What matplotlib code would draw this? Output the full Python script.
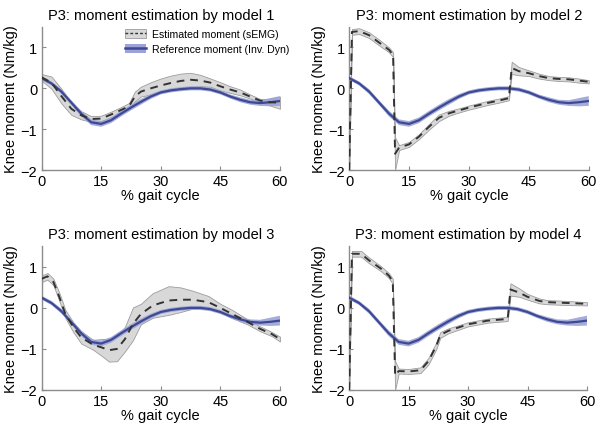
import numpy as np
import matplotlib.pyplot as plt
from matplotlib.patches import Patch
from matplotlib.lines import Line2D
from matplotlib import font_manager

plt.rcParams['font.family'] = ['Liberation Sans', 'DejaVu Sans']

# reference moment (inverse dynamics), same for every panel
ref_x = [0, 2.5, 5, 7.5, 10, 12.5, 15, 17.5, 20, 22.5, 25, 27.5, 30, 32.5,
         35, 37.5, 40, 42.5, 45, 47.5, 50, 52.5, 55, 57.5, 60]
ref_mean = [0.25, 0.12, -0.08, -0.35, -0.62, -0.83, -0.87, -0.78, -0.62, -0.47,
            -0.33, -0.2, -0.1, -0.05, -0.02, 0.0, 0.0, -0.03, -0.1, -0.2,
            -0.28, -0.34, -0.36, -0.34, -0.31]
ref_sd = [0.05, 0.05, 0.06, 0.06, 0.07, 0.07, 0.07, 0.07, 0.07, 0.07,
          0.07, 0.06, 0.05, 0.05, 0.05, 0.05, 0.05, 0.05, 0.05, 0.05,
          0.06, 0.06, 0.07, 0.1, 0.12]

# model 1
m1_x = [0, 2.5, 5, 7.5, 10, 12.5, 15, 17.5, 20, 22, 23.5, 25, 27.5, 30,
        32.5, 35, 37.5, 40, 42.5, 45, 47.5, 50, 52.5, 55, 57.5, 60]
m1_mean = [0.27, 0.14, -0.19, -0.5, -0.66, -0.75, -0.74, -0.64, -0.53, -0.44,
           -0.2, -0.08, 0.0, 0.07, 0.13, 0.18, 0.21, 0.19, 0.14, 0.05,
           -0.03, -0.1, -0.2, -0.3, -0.34, -0.35]
m1_sd = [0.08, 0.15, 0.18, 0.15, 0.1, 0.07, 0.07, 0.07, 0.07, 0.08,
         0.12, 0.12, 0.15, 0.17, 0.18, 0.18, 0.17, 0.14, 0.1, 0.1,
         0.08, 0.07, 0.05, 0.04, 0.08, 0.15]

# model 2
m2_x = [0, 0.7, 2.5, 5, 7.5, 10, 11, 11.5, 12.5, 15, 17.5, 20, 22.5, 25,
        27.5, 30, 32.5, 35, 37.5, 40, 40.7, 42.5, 45, 47.5, 50, 52.5, 55,
        57.5, 60]
m2_mean = [-2.0, 1.38, 1.4, 1.3, 1.12, 0.94, 0.82, -1.6, -1.45, -1.37, -1.18,
           -0.94, -0.72, -0.61, -0.54, -0.47, -0.41, -0.35, -0.3, -0.24,
           0.5, 0.42, 0.37, 0.3, 0.25, 0.23, 0.22, 0.19, 0.16]
m2_sd = [0.05, 0.07, 0.07, 0.07, 0.07, 0.06, 0.06, 0.4, 0.06, 0.06, 0.06,
         0.07, 0.08, 0.06, 0.05, 0.05, 0.05, 0.05, 0.05, 0.05,
         0.15, 0.1, 0.07, 0.06, 0.05, 0.05, 0.05, 0.05, 0.04]

# model 3
m3_x = [0, 1.5, 3, 4.5, 6, 8, 10, 13, 15, 17, 19, 21, 23, 25, 28, 32, 35,
        38, 42, 45, 48, 52, 55, 58, 60]
m3_mean = [0.71, 0.77, 0.63, 0.26, -0.15, -0.47, -0.72, -0.9, -0.96, -1.03,
           -1.0, -0.76, -0.39, -0.15, 0.06, 0.18, 0.2, 0.2, 0.14, 0.0,
           -0.15, -0.35, -0.51, -0.64, -0.76]
m3_sd = [0.08, 0.08, 0.08, 0.1, 0.1, 0.12, 0.15, 0.12, 0.2, 0.28, 0.3,
         0.3, 0.4, 0.25, 0.3, 0.35, 0.3, 0.22, 0.15, 0.1, 0.1, 0.06,
         0.06, 0.05, 0.06]

# model 4
m4_x = [0, 0.7, 3, 5, 8, 10, 11, 11.6, 12.5, 15, 18, 20, 22, 23, 25, 30,
        35, 40, 40.7, 43, 45, 48, 50, 55, 60]
m4_mean = [-2.0, 1.32, 1.32, 1.16, 0.96, 0.79, 0.65, -1.65, -1.54, -1.55,
           -1.52, -1.3, -0.92, -0.66, -0.56, -0.4, -0.31, -0.27, 0.45, 0.37,
           0.27, 0.17, 0.14, 0.12, 0.1]
m4_sd = [0.05, 0.07, 0.07, 0.07, 0.06, 0.06, 0.06, 0.35, 0.06, 0.06, 0.07,
         0.08, 0.08, 0.07, 0.06, 0.05, 0.05, 0.05, 0.15, 0.1, 0.07, 0.06,
         0.05, 0.05, 0.04]

models = [(m1_x, m1_mean, m1_sd), (m2_x, m2_mean, m2_sd),
          (m3_x, m3_mean, m3_sd), (m4_x, m4_mean, m4_sd)]
titles = ['P3: moment estimation by model %d' % i for i in range(1, 5)]
x_ticks = [0, 15, 30, 45, 60]
y_ticks = [-2, -1, 0, 1]

GRAY_FILL = '#d8d8d8'
GRAY_EDGE = '#9c9c9c'
DASH_COL = '#333333'
BLUE_FILL = '#9da3d6'
BLUE_LINE = '#3c4994'
SPINE_COL = '#8c8c8c'

# axes rectangles in figure fraction (left, bottom, width, height)
positions = [(0.069, 0.603, 0.396, 0.332), (0.580, 0.603, 0.398, 0.332),
             (0.069, 0.093, 0.396, 0.333), (0.580, 0.093, 0.395, 0.333)]


def legend_font():
    # narrow face if available, else the normal one at a smaller size
    names = {f.name for f in font_manager.fontManager.ttflist}
    if 'Liberation Sans Narrow' in names:
        return font_manager.FontProperties(family='Liberation Sans Narrow', size=8.8)
    return font_manager.FontProperties(family='Liberation Sans', size=7.6)


def draw_panel(ax, est, title):
    ex, em, es = (np.array(a, dtype=float) for a in est)
    rx, rm, rs = (np.array(a, dtype=float) for a in (ref_x, ref_mean, ref_sd))

    ax.fill_between(ex, em - es, em + es, facecolor=GRAY_FILL,
                    edgecolor=GRAY_EDGE, linewidth=0.6, zorder=1)
    ax.fill_between(rx, rm - rs, rm + rs, facecolor=BLUE_FILL,
                    edgecolor='none', alpha=0.9, zorder=2)
    ax.plot(rx, rm, color=BLUE_LINE, linewidth=1.6, zorder=3)
    ax.plot(ex, em, color=DASH_COL, linewidth=1.4, dashes=(4, 3), zorder=4)

    ax.set_xlim(0, 60)
    ax.set_ylim(-2, 1.5)
    ax.set_xticks(x_ticks)
    ax.set_yticks(y_ticks)
    ax.tick_params(direction='in', length=3, width=0.8, color=SPINE_COL,
                   labelsize=10.5, pad=3)
    for side in ('top', 'right'):
        ax.spines[side].set_visible(False)
    for side in ('left', 'bottom'):
        ax.spines[side].set_color(SPINE_COL)
        ax.spines[side].set_linewidth(1.0)
    ax.set_title(title, fontsize=10.5, pad=6)
    ax.set_xlabel('% gait cycle', fontsize=10.5, labelpad=0)
    ax.set_ylabel('Knee moment (Nm/kg)', fontsize=10.5, labelpad=2)


def main():
    fig = plt.figure(figsize=(6.02, 4.31), dpi=100)
    axes = []
    for pos, est, title in zip(positions, models, titles):
        ax = fig.add_axes(pos)
        draw_panel(ax, est, title)
        axes.append(ax)

    est_handle = (Patch(facecolor=GRAY_FILL, edgecolor=GRAY_EDGE, linewidth=0.6),
                  Line2D([], [], color=DASH_COL, linewidth=1.0, dashes=(2, 1.5)))
    ref_handle = (Patch(facecolor=BLUE_FILL, edgecolor='none'),
                  Line2D([], [], color=BLUE_LINE, linewidth=1.8))
    axes[0].legend([est_handle, ref_handle],
                   ['Estimated moment (sEMG)', 'Reference moment (Inv. Dyn)'],
                   loc='upper right', bbox_to_anchor=(1.05, 1.0), frameon=False,
                   prop=legend_font(), handlelength=2.0, handleheight=0.9,
                   handletextpad=0.6, labelspacing=0.45, borderaxespad=0.0,
                   borderpad=0.2)

    fig.savefig('out.png', dpi=100)


if __name__ == '__main__':
    main()
